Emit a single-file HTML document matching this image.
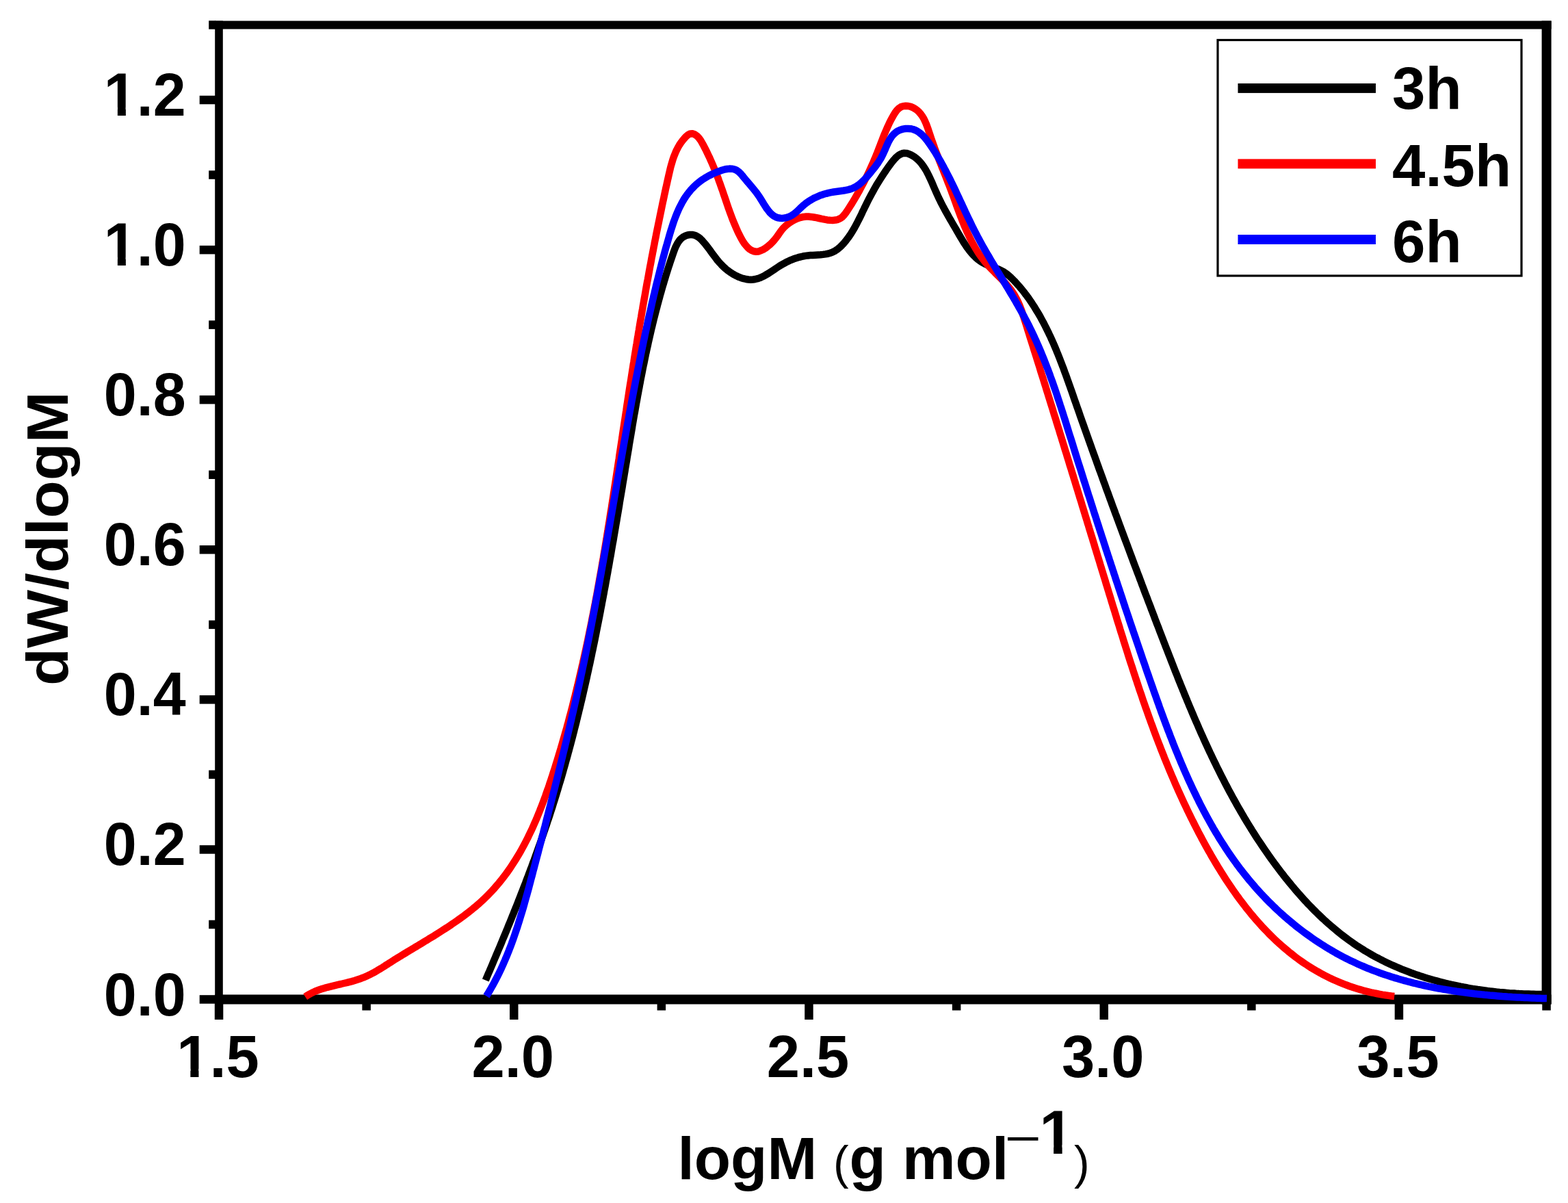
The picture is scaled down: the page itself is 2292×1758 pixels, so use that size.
<!DOCTYPE html>
<html><head><meta charset="utf-8"><title>dW/dlogM vs logM</title>
<style>
html,body{margin:0;padding:0;background:#fff;}
svg{display:block;}
text{font-family:'Liberation Sans', Arial, Helvetica, sans-serif;font-weight:bold;fill:#000;}
.r{font-weight:normal;}
</style></head><body>
<svg xmlns="http://www.w3.org/2000/svg" width="2292" height="1758" viewBox="0 0 2292 1758">
<rect x="0" y="0" width="2292" height="1758" fill="#fff"/>

<g fill="#000">
<rect x="314.2" y="30.5" width="1953.4" height="12"/>
<rect x="314.2" y="1453.5" width="1953.4" height="14"/>
<rect x="314.2" y="30.5" width="11.6" height="1437.0"/>
<rect x="2253.6" y="30.5" width="14" height="1437.0"/>
<rect x="291.7" y="1454.2" width="23.5" height="12.5"/>
<rect x="305.2" y="1344.7" width="10.0" height="12.5"/>
<rect x="291.7" y="1235.2" width="23.5" height="12.5"/>
<rect x="305.2" y="1125.6" width="10.0" height="12.5"/>
<rect x="291.7" y="1016.1" width="23.5" height="12.5"/>
<rect x="305.2" y="906.6" width="10.0" height="12.5"/>
<rect x="291.7" y="797.0" width="23.5" height="12.5"/>
<rect x="305.2" y="687.5" width="10.0" height="12.5"/>
<rect x="291.7" y="577.9" width="23.5" height="12.5"/>
<rect x="305.2" y="468.4" width="10.0" height="12.5"/>
<rect x="291.7" y="358.9" width="23.5" height="12.5"/>
<rect x="305.2" y="249.3" width="10.0" height="12.5"/>
<rect x="291.7" y="139.8" width="23.5" height="12.5"/>
<rect x="305.2" y="30.2" width="10.0" height="12.5"/>
<rect x="313.8" y="1466.5" width="12.5" height="23.5"/>
<rect x="529.4" y="1466.5" width="12.5" height="10.0"/>
<rect x="745.0" y="1466.5" width="12.5" height="23.5"/>
<rect x="960.6" y="1466.5" width="12.5" height="10.0"/>
<rect x="1176.2" y="1466.5" width="12.5" height="23.5"/>
<rect x="1391.9" y="1466.5" width="12.5" height="10.0"/>
<rect x="1607.5" y="1466.5" width="12.5" height="23.5"/>
<rect x="1823.1" y="1466.5" width="12.5" height="10.0"/>
<rect x="2038.7" y="1466.5" width="12.5" height="23.5"/>
<rect x="2254.3" y="1466.5" width="12.5" height="10.0"/>
</g>
<polyline fill="none" stroke="#000" stroke-width="10.5" stroke-linejoin="round" stroke-linecap="butt" points="709.8,1432.4 711.2,1429.0 712.6,1425.7 714.0,1422.4 715.5,1419.1 716.9,1415.8 718.3,1412.5 719.7,1409.2 721.1,1405.8 722.5,1402.5 723.9,1399.2 725.3,1395.9 726.7,1392.6 728.1,1389.3 729.5,1386.0 730.9,1382.7 732.3,1379.4 733.7,1376.0 735.0,1372.7 736.4,1369.4 737.8,1366.1 739.2,1362.8 740.5,1359.5 741.9,1356.2 743.2,1352.9 744.6,1349.6 745.9,1346.3 747.3,1342.9 748.6,1339.6 750.0,1336.3 751.3,1333.0 752.6,1329.7 754.0,1326.4 755.3,1323.1 756.6,1319.8 757.9,1316.4 759.2,1313.1 760.5,1309.8 761.8,1306.5 763.1,1303.2 764.4,1299.8 765.7,1296.5 767.0,1293.2 768.3,1289.9 769.5,1286.6 770.8,1283.2 772.1,1279.9 773.3,1276.6 774.6,1273.2 775.8,1269.9 777.1,1266.6 778.3,1263.2 779.5,1259.9 780.8,1256.6 782.0,1253.2 783.2,1249.9 784.4,1246.6 785.6,1243.2 786.8,1239.9 788.0,1236.5 789.2,1233.2 790.4,1229.8 791.6,1226.5 792.7,1223.1 793.9,1219.7 795.0,1216.4 796.2,1213.0 797.3,1209.7 798.5,1206.3 799.6,1202.9 800.7,1199.5 801.9,1196.2 803.0,1192.8 804.1,1189.4 805.2,1186.0 806.3,1182.6 807.4,1179.3 808.4,1175.9 809.5,1172.5 810.6,1169.1 811.6,1165.7 812.7,1162.3 813.7,1158.9 814.8,1155.5 815.8,1152.1 816.8,1148.6 817.8,1145.2 818.9,1141.8 819.9,1138.4 820.9,1135.0 821.9,1131.5 822.9,1128.1 823.8,1124.7 824.8,1121.2 825.8,1117.8 826.7,1114.4 827.7,1110.9 828.7,1107.5 829.6,1104.1 830.5,1100.6 831.5,1097.2 832.4,1093.7 833.3,1090.3 834.3,1086.8 835.2,1083.3 836.1,1079.9 837.0,1076.4 837.9,1073.0 838.8,1069.5 839.6,1066.0 840.5,1062.6 841.4,1059.1 842.3,1055.6 843.1,1052.1 844.0,1048.7 844.8,1045.2 845.7,1041.7 846.5,1038.2 847.4,1034.7 848.2,1031.3 849.0,1027.8 849.9,1024.3 850.7,1020.8 851.5,1017.3 852.3,1013.8 853.1,1010.3 853.9,1006.8 854.7,1003.3 855.5,999.8 856.3,996.3 857.1,992.8 857.9,989.3 858.6,985.8 859.4,982.3 860.2,978.8 860.9,975.3 861.7,971.8 862.5,968.3 863.2,964.8 864.0,961.2 864.7,957.7 865.4,954.2 866.2,950.7 866.9,947.2 867.6,943.7 868.4,940.1 869.1,936.6 869.8,933.1 870.5,929.6 871.2,926.1 871.9,922.5 872.6,919.0 873.3,915.5 874.0,912.0 874.7,908.4 875.4,904.9 876.1,901.4 876.8,897.8 877.5,894.3 878.1,890.8 878.8,887.3 879.5,883.7 880.1,880.2 880.8,876.7 881.5,873.1 882.1,869.6 882.8,866.1 883.4,862.5 884.1,859.0 884.8,855.5 885.4,851.9 886.0,848.4 886.7,844.8 887.3,841.3 888.0,837.8 888.6,834.2 889.2,830.7 889.9,827.2 890.5,823.6 891.1,820.1 891.7,816.6 892.4,813.0 893.0,809.5 893.6,805.9 894.2,802.4 894.8,798.9 895.4,795.3 896.1,791.8 896.7,788.3 897.3,784.7 897.9,781.2 898.5,777.6 899.1,774.1 899.7,770.6 900.3,767.0 900.9,763.5 901.5,760.0 902.1,756.4 902.7,752.9 903.3,749.4 903.9,745.8 904.5,742.3 905.1,738.8 905.6,735.2 906.2,731.7 906.8,728.2 907.4,724.7 908.0,721.1 908.6,717.6 909.2,714.1 909.8,710.6 910.3,707.0 910.9,703.5 911.5,700.0 912.1,696.5 912.7,692.9 913.3,689.4 913.8,685.9 914.4,682.4 915.0,678.9 915.6,675.3 916.2,671.8 916.7,668.3 917.3,664.8 917.9,661.3 918.5,657.8 919.1,654.3 919.6,650.7 920.2,647.2 920.8,643.7 921.4,640.2 922.0,636.7 922.6,633.2 923.2,629.7 923.8,626.2 924.3,622.7 924.9,619.2 925.5,615.7 926.1,612.2 926.7,608.7 927.3,605.2 928.0,601.7 928.6,598.2 929.2,594.7 929.8,591.2 930.4,587.7 931.1,584.2 931.7,580.7 932.3,577.2 933.0,573.7 933.6,570.3 934.3,566.8 934.9,563.3 935.6,559.8 936.2,556.3 936.9,552.8 937.6,549.3 938.3,545.8 939.0,542.3 939.6,538.9 940.3,535.4 941.1,531.9 941.8,528.4 942.5,524.9 943.2,521.4 943.9,517.9 944.7,514.5 945.4,511.0 946.2,507.5 947.0,504.0 947.7,500.5 948.5,497.0 949.3,493.5 950.1,490.1 950.9,486.6 951.7,483.1 952.5,479.6 953.4,476.1 954.2,472.6 955.1,469.2 955.9,465.7 956.8,462.2 957.7,458.7 958.6,455.2 959.5,451.7 960.4,448.3 961.3,444.8 962.3,441.3 963.2,437.8 964.2,434.3 965.1,430.8 966.1,427.4 967.1,423.9 968.1,420.4 969.1,416.9 970.2,413.4 971.2,409.9 972.3,406.4 973.3,402.9 974.4,399.5 975.5,396.0 976.6,392.5 977.7,389.0 978.9,385.5 980.0,382.0 981.2,378.5 982.4,375.0 983.6,371.5 984.8,368.1 986.0,364.7 987.4,361.3 988.9,358.2 990.5,355.2 992.4,352.4 994.4,349.9 996.7,347.7 999.3,345.9 1002.2,344.5 1005.2,343.5 1008.5,343.0 1011.8,343.0 1015.1,343.6 1018.2,344.9 1021.2,346.7 1024.0,349.1 1026.7,351.8 1029.1,354.6 1031.5,357.4 1033.7,360.2 1035.9,363.1 1038.0,365.9 1040.0,368.8 1042.1,371.6 1044.2,374.4 1046.3,377.2 1048.4,380.0 1050.7,382.7 1053.1,385.3 1055.5,387.9 1058.2,390.5 1061.0,393.0 1063.9,395.3 1067.0,397.6 1070.2,399.7 1073.5,401.6 1076.8,403.3 1080.2,404.9 1083.6,406.2 1087.1,407.2 1090.6,408.0 1094.0,408.5 1097.4,408.7 1100.8,408.5 1104.1,408.0 1107.4,407.2 1110.6,406.1 1113.7,404.7 1116.9,403.2 1120.0,401.4 1123.1,399.6 1126.1,397.6 1129.2,395.6 1132.2,393.6 1135.3,391.5 1138.3,389.5 1141.4,387.6 1144.5,385.8 1147.6,384.1 1150.7,382.4 1153.9,380.9 1157.1,379.6 1160.3,378.3 1163.6,377.2 1166.9,376.2 1170.3,375.3 1173.8,374.5 1177.3,373.9 1180.9,373.4 1184.5,373.1 1188.2,372.9 1191.9,372.7 1195.7,372.5 1199.4,372.3 1203.0,371.9 1206.6,371.4 1210.2,370.8 1213.5,369.8 1216.8,368.6 1219.9,367.1 1222.8,365.2 1225.6,363.1 1228.3,360.8 1230.8,358.3 1233.3,355.6 1235.6,352.9 1237.8,350.1 1240.0,347.2 1242.0,344.3 1244.0,341.3 1245.9,338.2 1247.8,335.1 1249.6,331.9 1251.3,328.7 1253.0,325.5 1254.6,322.3 1256.3,319.0 1257.9,315.8 1259.5,312.5 1261.0,309.2 1262.6,306.0 1264.1,302.8 1265.7,299.6 1267.3,296.4 1268.8,293.3 1270.4,290.2 1272.1,287.1 1273.7,284.0 1275.4,280.9 1277.1,277.9 1278.8,274.8 1280.5,271.8 1282.3,268.8 1284.2,265.7 1286.1,262.7 1288.0,259.7 1290.0,256.6 1292.0,253.6 1294.1,250.5 1296.2,247.4 1298.4,244.3 1300.7,241.2 1303.0,238.0 1305.4,235.0 1307.9,232.1 1310.4,229.5 1313.1,227.3 1315.9,225.6 1318.8,224.3 1321.8,223.8 1324.9,223.9 1328.1,224.8 1331.3,226.1 1334.4,227.8 1337.3,229.7 1340.0,231.9 1342.5,234.2 1344.9,236.7 1347.2,239.4 1349.3,242.3 1351.3,245.2 1353.2,248.3 1355.0,251.5 1356.7,254.8 1358.3,258.1 1359.9,261.5 1361.5,264.9 1363.0,268.4 1364.4,271.8 1365.9,275.3 1367.4,278.7 1368.9,282.0 1370.4,285.3 1371.9,288.6 1373.5,291.8 1375.0,295.0 1376.6,298.1 1378.2,301.2 1379.9,304.3 1381.5,307.4 1383.2,310.4 1384.9,313.4 1386.6,316.5 1388.3,319.5 1390.1,322.5 1391.8,325.5 1393.6,328.6 1395.4,331.6 1397.2,334.7 1399.0,337.8 1400.8,340.9 1402.6,344.1 1404.5,347.2 1406.4,350.4 1408.3,353.6 1410.3,356.7 1412.3,359.7 1414.4,362.7 1416.6,365.6 1418.9,368.4 1421.2,371.2 1423.7,373.8 1426.2,376.2 1428.8,378.5 1431.6,380.7 1434.5,382.7 1437.5,384.4 1440.6,386.0 1443.9,387.5 1447.2,388.8 1450.6,390.1 1453.9,391.4 1457.3,392.7 1460.6,394.0 1463.8,395.5 1466.9,397.2 1469.9,399.1 1472.7,401.2 1475.4,403.5 1478.0,405.9 1480.5,408.4 1483.0,410.9 1485.4,413.5 1487.8,416.2 1490.2,418.8 1492.5,421.6 1494.7,424.3 1496.9,427.1 1499.1,430.0 1501.3,432.8 1503.4,435.7 1505.4,438.7 1507.4,441.6 1509.4,444.6 1511.4,447.6 1513.3,450.7 1515.1,453.7 1517.0,456.8 1518.8,459.8 1520.6,462.9 1522.3,466.1 1524.0,469.2 1525.7,472.3 1527.3,475.5 1528.9,478.7 1530.5,481.9 1532.1,485.1 1533.6,488.3 1535.2,491.5 1536.6,494.8 1538.1,498.0 1539.6,501.3 1541.0,504.6 1542.4,507.9 1543.8,511.2 1545.1,514.5 1546.5,517.8 1547.8,521.1 1549.1,524.4 1550.4,527.8 1551.7,531.1 1553.0,534.5 1554.3,537.8 1555.5,541.2 1556.7,544.6 1558.0,547.9 1559.2,551.3 1560.4,554.7 1561.6,558.1 1562.8,561.5 1564.0,564.8 1565.2,568.2 1566.4,571.6 1567.6,575.0 1568.8,578.4 1569.9,581.8 1571.1,585.2 1572.3,588.6 1573.5,592.0 1574.7,595.4 1575.9,598.8 1577.1,602.1 1578.2,605.5 1579.4,608.9 1580.6,612.3 1581.8,615.7 1583.0,619.1 1584.2,622.4 1585.4,625.8 1586.6,629.2 1587.8,632.6 1589.0,636.0 1590.2,639.3 1591.4,642.7 1592.6,646.1 1593.8,649.4 1595.0,652.8 1596.2,656.2 1597.4,659.6 1598.6,662.9 1599.9,666.3 1601.1,669.7 1602.3,673.0 1603.5,676.4 1604.7,679.8 1605.9,683.1 1607.1,686.5 1608.4,689.9 1609.6,693.2 1610.8,696.6 1612.0,699.9 1613.2,703.3 1614.5,706.7 1615.7,710.0 1616.9,713.4 1618.1,716.7 1619.4,720.1 1620.6,723.5 1621.8,726.8 1623.0,730.2 1624.3,733.5 1625.5,736.9 1626.7,740.2 1628.0,743.6 1629.2,746.9 1630.4,750.3 1631.7,753.6 1632.9,757.0 1634.2,760.3 1635.4,763.7 1636.6,767.0 1637.9,770.4 1639.1,773.7 1640.4,777.1 1641.6,780.4 1642.9,783.8 1644.1,787.1 1645.4,790.5 1646.6,793.8 1647.9,797.2 1649.1,800.5 1650.4,803.9 1651.6,807.2 1652.9,810.6 1654.1,813.9 1655.4,817.3 1656.6,820.6 1657.9,824.0 1659.1,827.3 1660.4,830.7 1661.7,834.0 1662.9,837.4 1664.2,840.7 1665.5,844.0 1666.7,847.4 1668.0,850.7 1669.2,854.1 1670.5,857.4 1671.8,860.8 1673.0,864.1 1674.3,867.5 1675.6,870.8 1676.9,874.2 1678.1,877.5 1679.4,880.9 1680.7,884.2 1682.0,887.5 1683.2,890.9 1684.5,894.2 1685.8,897.6 1687.1,900.9 1688.3,904.3 1689.6,907.6 1690.9,911.0 1692.2,914.3 1693.5,917.7 1694.7,921.0 1696.0,924.4 1697.3,927.7 1698.6,931.1 1699.9,934.4 1701.2,937.8 1702.5,941.1 1703.8,944.5 1705.1,947.8 1706.4,951.2 1707.7,954.5 1709.0,957.9 1710.3,961.2 1711.6,964.5 1712.9,967.9 1714.2,971.2 1715.5,974.6 1716.8,977.9 1718.1,981.3 1719.5,984.6 1720.8,987.9 1722.1,991.3 1723.4,994.6 1724.8,997.9 1726.1,1001.3 1727.5,1004.6 1728.8,1007.9 1730.2,1011.2 1731.5,1014.6 1732.9,1017.9 1734.3,1021.2 1735.6,1024.5 1737.0,1027.8 1738.4,1031.2 1739.8,1034.5 1741.2,1037.8 1742.6,1041.1 1744.0,1044.4 1745.4,1047.7 1746.8,1051.0 1748.2,1054.3 1749.7,1057.5 1751.1,1060.8 1752.5,1064.1 1754.0,1067.4 1755.4,1070.7 1756.9,1073.9 1758.4,1077.2 1759.8,1080.5 1761.3,1083.7 1762.8,1087.0 1764.3,1090.2 1765.8,1093.5 1767.3,1096.7 1768.8,1100.0 1770.4,1103.2 1771.9,1106.4 1773.5,1109.7 1775.0,1112.9 1776.6,1116.1 1778.1,1119.3 1779.7,1122.5 1781.3,1125.7 1782.9,1128.9 1784.5,1132.1 1786.1,1135.3 1787.8,1138.5 1789.4,1141.7 1791.0,1144.8 1792.7,1148.0 1794.4,1151.2 1796.0,1154.3 1797.7,1157.5 1799.4,1160.6 1801.1,1163.7 1802.8,1166.9 1804.6,1170.0 1806.3,1173.1 1808.0,1176.2 1809.8,1179.3 1811.6,1182.4 1813.4,1185.5 1815.2,1188.6 1817.0,1191.7 1818.8,1194.8 1820.6,1197.8 1822.5,1200.9 1824.3,1203.9 1826.2,1207.0 1828.1,1210.0 1829.9,1213.0 1831.9,1216.1 1833.8,1219.1 1835.7,1222.1 1837.6,1225.1 1839.6,1228.1 1841.6,1231.0 1843.6,1234.0 1845.6,1237.0 1847.6,1239.9 1849.6,1242.9 1851.6,1245.8 1853.7,1248.8 1855.7,1251.7 1857.8,1254.6 1859.9,1257.5 1862.0,1260.4 1864.2,1263.3 1866.3,1266.2 1868.5,1269.1 1870.6,1271.9 1872.8,1274.8 1875.0,1277.6 1877.2,1280.5 1879.5,1283.3 1881.7,1286.1 1884.0,1288.9 1886.3,1291.7 1888.6,1294.5 1890.9,1297.2 1893.2,1300.0 1895.6,1302.7 1897.9,1305.4 1900.3,1308.1 1902.7,1310.8 1905.1,1313.5 1907.5,1316.1 1910.0,1318.7 1912.4,1321.4 1914.9,1323.9 1917.4,1326.5 1919.9,1329.1 1922.5,1331.6 1925.0,1334.1 1927.6,1336.6 1930.2,1339.1 1932.8,1341.6 1935.4,1344.0 1938.0,1346.4 1940.7,1348.8 1943.4,1351.2 1946.1,1353.5 1948.8,1355.8 1951.5,1358.1 1954.3,1360.4 1957.0,1362.6 1959.8,1364.8 1962.6,1367.0 1965.5,1369.2 1968.3,1371.3 1971.2,1373.4 1974.1,1375.5 1977.0,1377.6 1979.9,1379.6 1982.8,1381.6 1985.8,1383.5 1988.8,1385.4 1991.8,1387.3 1994.8,1389.2 1997.9,1391.0 2000.9,1392.8 2004.0,1394.6 2007.1,1396.4 2010.2,1398.1 2013.4,1399.7 2016.5,1401.4 2019.7,1403.0 2022.9,1404.6 2026.1,1406.2 2029.3,1407.7 2032.5,1409.2 2035.8,1410.7 2039.1,1412.1 2042.3,1413.5 2045.6,1414.9 2048.9,1416.3 2052.3,1417.6 2055.6,1418.9 2058.9,1420.2 2062.3,1421.5 2065.7,1422.7 2069.0,1423.9 2072.4,1425.0 2075.8,1426.2 2079.3,1427.3 2082.7,1428.4 2086.1,1429.5 2089.6,1430.5 2093.0,1431.5 2096.5,1432.5 2099.9,1433.4 2103.4,1434.4 2106.9,1435.3 2110.4,1436.2 2113.9,1437.0 2117.4,1437.9 2120.9,1438.7 2124.4,1439.4 2128.0,1440.2 2131.5,1440.9 2135.0,1441.7 2138.6,1442.3 2142.1,1443.0 2145.7,1443.7 2149.2,1444.3 2152.8,1444.9 2156.3,1445.4 2159.9,1446.0 2163.5,1446.5 2167.0,1447.0 2170.6,1447.5 2174.2,1448.0 2177.7,1448.4 2181.3,1448.8 2184.9,1449.2 2188.4,1449.6 2192.0,1450.0 2195.6,1450.3 2199.1,1450.6 2202.7,1450.9 2206.3,1451.2 2209.8,1451.4 2213.4,1451.6 2216.9,1451.9 2220.5,1452.1 2224.0,1452.2 2227.6,1452.4 2231.1,1452.5 2234.6,1452.6 2238.2,1452.7 2241.7,1452.8 2245.2,1452.9 2248.7,1452.9 2252.2,1452.9 2255.7,1452.9"/>
<polyline fill="none" stroke="#f00" stroke-width="10.5" stroke-linejoin="round" stroke-linecap="butt" points="446.2,1456.6 449.4,1454.5 452.7,1452.6 456.1,1450.8 459.6,1449.2 463.2,1447.7 467.0,1446.3 470.7,1445.1 474.6,1443.9 478.5,1442.8 482.4,1441.8 486.4,1440.8 490.4,1439.8 494.4,1438.9 498.5,1438.0 502.5,1437.0 506.5,1436.1 510.4,1435.1 514.4,1434.1 518.2,1433.0 522.0,1431.8 525.8,1430.6 529.4,1429.2 533.0,1427.8 536.5,1426.2 540.0,1424.6 543.3,1422.9 546.7,1421.1 550.0,1419.2 553.2,1417.3 556.5,1415.4 559.7,1413.4 562.9,1411.3 566.1,1409.3 569.3,1407.2 572.6,1405.2 575.8,1403.1 579.1,1401.1 582.4,1399.0 585.8,1397.0 589.1,1394.9 592.5,1392.9 595.9,1390.8 599.3,1388.8 602.7,1386.7 606.1,1384.6 609.6,1382.6 613.0,1380.5 616.5,1378.4 619.9,1376.3 623.4,1374.3 626.8,1372.1 630.3,1370.0 633.8,1367.9 637.2,1365.8 640.6,1363.6 644.1,1361.4 647.5,1359.2 650.9,1357.0 654.3,1354.8 657.7,1352.6 661.0,1350.3 664.4,1348.0 667.7,1345.7 671.0,1343.4 674.3,1341.0 677.5,1338.7 680.7,1336.3 683.9,1333.8 687.0,1331.4 690.2,1328.9 693.2,1326.3 696.3,1323.8 699.3,1321.2 702.2,1318.6 705.2,1315.9 708.0,1313.2 710.8,1310.5 713.6,1307.7 716.3,1304.9 719.0,1302.1 721.7,1299.2 724.2,1296.3 726.8,1293.3 729.3,1290.4 731.7,1287.4 734.2,1284.3 736.5,1281.3 738.9,1278.1 741.2,1275.0 743.4,1271.9 745.6,1268.7 747.8,1265.4 749.9,1262.2 752.0,1258.9 754.1,1255.6 756.1,1252.3 758.1,1249.0 760.1,1245.6 762.0,1242.2 763.9,1238.8 765.8,1235.3 767.6,1231.9 769.4,1228.4 771.2,1224.9 772.9,1221.3 774.6,1217.8 776.3,1214.2 778.0,1210.7 779.6,1207.1 781.2,1203.4 782.8,1199.8 784.4,1196.2 785.9,1192.5 787.4,1188.8 788.9,1185.1 790.3,1181.4 791.8,1177.7 793.2,1174.0 794.6,1170.3 796.0,1166.5 797.4,1162.8 798.7,1159.0 800.0,1155.2 801.4,1151.5 802.7,1147.7 803.9,1143.9 805.2,1140.1 806.5,1136.3 807.7,1132.5 808.9,1128.7 810.2,1124.8 811.4,1121.0 812.6,1117.2 813.8,1113.4 814.9,1109.6 816.1,1105.7 817.3,1101.9 818.4,1098.1 819.6,1094.3 820.7,1090.4 821.8,1086.6 822.9,1082.8 824.0,1078.9 825.1,1075.1 826.2,1071.2 827.3,1067.4 828.4,1063.6 829.4,1059.7 830.5,1055.9 831.5,1052.0 832.5,1048.2 833.6,1044.3 834.6,1040.5 835.6,1036.6 836.6,1032.8 837.6,1028.9 838.5,1025.0 839.5,1021.2 840.5,1017.3 841.4,1013.5 842.4,1009.6 843.3,1005.7 844.3,1001.9 845.2,998.0 846.1,994.1 847.0,990.3 847.9,986.4 848.8,982.5 849.7,978.6 850.6,974.8 851.5,970.9 852.4,967.0 853.2,963.1 854.1,959.3 854.9,955.4 855.8,951.5 856.6,947.6 857.5,943.7 858.3,939.8 859.1,936.0 859.9,932.1 860.7,928.2 861.5,924.3 862.3,920.4 863.1,916.5 863.9,912.6 864.7,908.7 865.4,904.8 866.2,900.9 867.0,897.1 867.7,893.2 868.5,889.3 869.2,885.4 870.0,881.5 870.7,877.6 871.4,873.7 872.2,869.8 872.9,865.9 873.6,862.0 874.3,858.1 875.0,854.2 875.7,850.2 876.4,846.3 877.1,842.4 877.8,838.5 878.5,834.6 879.2,830.7 879.9,826.8 880.5,822.9 881.2,819.0 881.9,815.1 882.5,811.2 883.2,807.3 883.9,803.3 884.5,799.4 885.2,795.5 885.8,791.6 886.5,787.7 887.1,783.8 887.7,779.9 888.4,776.0 889.0,772.0 889.6,768.1 890.3,764.2 890.9,760.3 891.5,756.4 892.1,752.5 892.7,748.6 893.4,744.6 894.0,740.7 894.6,736.8 895.2,732.9 895.8,729.0 896.4,725.1 897.0,721.1 897.6,717.2 898.2,713.3 898.8,709.4 899.4,705.5 900.0,701.5 900.6,697.6 901.2,693.7 901.8,689.8 902.4,685.9 903.0,682.0 903.6,678.0 904.2,674.1 904.8,670.2 905.3,666.3 905.9,662.4 906.5,658.5 907.1,654.5 907.7,650.6 908.3,646.7 908.9,642.8 909.5,638.9 910.0,635.0 910.6,631.0 911.2,627.1 911.8,623.2 912.4,619.3 913.0,615.4 913.6,611.5 914.2,607.6 914.8,603.6 915.4,599.7 915.9,595.8 916.5,591.9 917.1,588.0 917.7,584.1 918.3,580.2 918.9,576.3 919.5,572.3 920.1,568.4 920.7,564.5 921.3,560.6 922.0,556.7 922.6,552.8 923.2,548.9 923.8,545.0 924.4,541.1 925.0,537.2 925.6,533.3 926.3,529.4 926.9,525.5 927.5,521.6 928.1,517.7 928.8,513.8 929.4,509.9 930.0,506.0 930.7,502.1 931.3,498.2 931.9,494.3 932.6,490.4 933.2,486.5 933.9,482.6 934.5,478.7 935.2,474.8 935.8,470.9 936.5,467.0 937.2,463.1 937.8,459.2 938.5,455.3 939.2,451.4 939.8,447.5 940.5,443.6 941.2,439.7 941.9,435.8 942.6,431.9 943.3,428.0 943.9,424.1 944.6,420.2 945.3,416.3 946.0,412.4 946.8,408.5 947.5,404.6 948.2,400.7 948.9,396.8 949.6,392.9 950.3,389.0 951.1,385.1 951.8,381.2 952.5,377.3 953.3,373.4 954.0,369.5 954.8,365.6 955.5,361.7 956.3,357.8 957.0,353.9 957.8,350.0 958.6,346.1 959.3,342.2 960.1,338.3 960.9,334.4 961.7,330.5 962.5,326.6 963.3,322.7 964.1,318.8 964.9,314.9 965.7,311.0 966.5,307.1 967.3,303.2 968.1,299.3 968.9,295.4 969.8,291.5 970.6,287.6 971.4,283.7 972.3,279.8 973.1,275.8 974.0,271.9 974.9,268.0 975.7,264.1 976.6,260.2 977.5,256.3 978.4,252.4 979.3,248.5 980.2,244.6 981.3,240.8 982.4,237.0 983.5,233.2 984.8,229.5 986.2,225.9 987.7,222.3 989.3,218.8 991.1,215.3 993.0,212.0 995.1,208.8 997.5,205.6 1000.0,202.6 1002.7,199.7 1005.6,197.1 1008.8,195.4 1012.2,195.2 1015.6,196.4 1018.8,198.7 1021.6,201.6 1024.0,204.9 1026.1,208.4 1028.1,212.1 1030.0,215.7 1031.9,219.4 1033.7,223.1 1035.4,226.7 1037.2,230.4 1038.8,234.1 1040.5,237.9 1042.1,241.6 1043.6,245.3 1045.1,249.0 1046.6,252.7 1048.1,256.4 1049.5,260.1 1050.8,263.8 1052.2,267.5 1053.5,271.2 1054.8,274.9 1056.1,278.5 1057.3,282.2 1058.5,285.8 1059.8,289.4 1061.0,293.0 1062.2,296.6 1063.4,300.2 1064.7,303.9 1066.0,307.5 1067.3,311.2 1068.7,314.8 1070.1,318.6 1071.5,322.3 1073.1,326.1 1074.7,329.9 1076.4,333.8 1078.1,337.7 1080.0,341.7 1082.0,345.6 1084.0,349.4 1086.2,353.1 1088.5,356.5 1091.0,359.5 1093.5,362.2 1096.2,364.5 1099.1,366.1 1102.1,367.2 1105.2,367.7 1108.6,367.4 1112.0,366.3 1115.5,364.7 1119.1,362.5 1122.6,359.8 1126.0,356.9 1129.2,353.8 1132.1,350.5 1134.7,347.3 1137.0,344.1 1139.1,341.1 1141.1,338.2 1143.3,335.3 1145.8,332.5 1148.7,329.8 1151.8,327.2 1155.3,324.7 1158.9,322.5 1162.7,320.6 1166.6,319.0 1170.5,317.8 1174.4,316.9 1178.2,316.6 1182.0,316.6 1185.8,316.9 1189.6,317.5 1193.4,318.2 1197.2,319.0 1201.2,319.9 1205.2,320.7 1209.2,321.4 1213.3,321.8 1217.3,321.9 1221.2,321.6 1224.8,320.8 1228.1,319.3 1231.1,317.2 1233.7,314.4 1236.2,311.3 1238.5,307.9 1240.7,304.5 1242.9,301.0 1245.1,297.6 1247.2,294.1 1249.3,290.6 1251.3,287.1 1253.3,283.6 1255.3,280.2 1257.2,276.6 1259.1,273.1 1261.0,269.6 1262.8,266.1 1264.6,262.5 1266.4,259.0 1268.1,255.5 1269.8,251.9 1271.5,248.3 1273.1,244.8 1274.7,241.2 1276.3,237.6 1277.8,234.0 1279.4,230.4 1280.8,226.8 1282.3,223.2 1283.7,219.6 1285.1,216.0 1286.5,212.4 1287.9,208.7 1289.3,205.1 1290.7,201.5 1292.1,197.8 1293.6,194.2 1295.2,190.5 1296.8,186.8 1298.5,183.1 1300.2,179.4 1302.1,175.7 1304.1,172.0 1306.2,168.2 1308.5,164.5 1311.0,161.2 1313.8,158.3 1316.8,156.3 1320.3,155.1 1323.9,154.7 1327.6,155.0 1331.3,155.9 1334.8,157.4 1338.2,159.3 1341.2,161.6 1343.9,164.3 1346.3,167.2 1348.5,170.3 1350.5,173.7 1352.2,177.3 1353.8,181.0 1355.3,184.9 1356.7,188.8 1358.0,192.8 1359.3,196.7 1360.6,200.7 1361.9,204.6 1363.3,208.4 1364.7,212.2 1366.0,216.0 1367.4,219.8 1368.8,223.5 1370.3,227.2 1371.7,230.9 1373.1,234.6 1374.5,238.2 1376.0,241.9 1377.4,245.5 1378.9,249.1 1380.3,252.8 1381.8,256.4 1383.2,260.0 1384.6,263.6 1386.0,267.3 1387.5,270.9 1388.9,274.6 1390.3,278.3 1391.6,282.0 1393.0,285.7 1394.4,289.4 1395.7,293.1 1397.1,296.9 1398.4,300.7 1399.8,304.4 1401.2,308.2 1402.6,311.9 1404.0,315.7 1405.5,319.4 1406.9,323.1 1408.4,326.9 1409.9,330.6 1411.5,334.2 1413.1,337.9 1414.8,341.5 1416.5,345.1 1418.2,348.7 1420.0,352.2 1421.9,355.7 1423.8,359.2 1425.8,362.6 1427.8,365.9 1429.9,369.3 1432.1,372.5 1434.4,375.7 1436.8,378.9 1439.2,382.0 1441.8,385.0 1444.4,388.0 1447.1,390.9 1449.9,393.8 1452.7,396.6 1455.5,399.5 1458.3,402.3 1461.1,405.1 1463.9,407.9 1466.7,410.8 1469.4,413.7 1472.0,416.6 1474.5,419.6 1477.0,422.6 1479.3,425.8 1481.5,429.0 1483.5,432.3 1485.4,435.7 1487.2,439.1 1488.8,442.7 1490.4,446.3 1491.8,450.0 1493.2,453.7 1494.5,457.5 1495.7,461.3 1497.0,465.1 1498.2,468.9 1499.4,472.7 1500.6,476.5 1501.8,480.3 1503.0,484.2 1504.2,488.0 1505.4,491.8 1506.6,495.6 1507.8,499.4 1509.0,503.2 1510.2,507.0 1511.4,510.8 1512.6,514.6 1513.8,518.4 1515.0,522.3 1516.2,526.1 1517.4,529.9 1518.6,533.7 1519.8,537.5 1520.9,541.3 1522.1,545.1 1523.3,548.9 1524.5,552.7 1525.7,556.5 1526.9,560.3 1528.1,564.1 1529.2,567.9 1530.4,571.7 1531.6,575.5 1532.8,579.3 1534.0,583.1 1535.1,586.8 1536.3,590.6 1537.5,594.4 1538.7,598.2 1539.8,602.0 1541.0,605.8 1542.2,609.6 1543.4,613.4 1544.5,617.2 1545.7,621.0 1546.9,624.8 1548.1,628.5 1549.2,632.3 1550.4,636.1 1551.6,639.9 1552.7,643.7 1553.9,647.5 1555.1,651.3 1556.2,655.1 1557.4,658.8 1558.6,662.6 1559.7,666.4 1560.9,670.2 1562.1,674.0 1563.2,677.8 1564.4,681.6 1565.6,685.3 1566.7,689.1 1567.9,692.9 1569.1,696.7 1570.2,700.5 1571.4,704.2 1572.5,708.0 1573.7,711.8 1574.9,715.6 1576.0,719.4 1577.2,723.2 1578.3,726.9 1579.5,730.7 1580.7,734.5 1581.8,738.3 1583.0,742.1 1584.1,745.8 1585.3,749.6 1586.4,753.4 1587.6,757.2 1588.8,761.0 1589.9,764.8 1591.1,768.5 1592.2,772.3 1593.4,776.1 1594.5,779.9 1595.7,783.7 1596.9,787.4 1598.0,791.2 1599.2,795.0 1600.3,798.8 1601.5,802.6 1602.6,806.4 1603.8,810.1 1604.9,813.9 1606.1,817.7 1607.3,821.5 1608.4,825.3 1609.6,829.1 1610.7,832.8 1611.9,836.6 1613.0,840.4 1614.2,844.2 1615.4,848.0 1616.5,851.8 1617.7,855.6 1618.8,859.3 1620.0,863.1 1621.1,866.9 1622.3,870.7 1623.5,874.5 1624.6,878.3 1625.8,882.1 1626.9,885.9 1628.1,889.7 1629.3,893.4 1630.4,897.2 1631.6,901.0 1632.7,904.8 1633.9,908.6 1635.1,912.4 1636.3,916.2 1637.4,920.0 1638.6,923.8 1639.8,927.5 1641.0,931.3 1642.1,935.1 1643.3,938.9 1644.5,942.7 1645.7,946.5 1646.9,950.2 1648.1,954.0 1649.3,957.8 1650.5,961.6 1651.7,965.4 1652.9,969.1 1654.2,972.9 1655.4,976.7 1656.6,980.5 1657.8,984.2 1659.1,988.0 1660.3,991.8 1661.6,995.5 1662.8,999.3 1664.1,1003.1 1665.3,1006.8 1666.6,1010.6 1667.9,1014.3 1669.2,1018.1 1670.4,1021.8 1671.7,1025.6 1673.0,1029.3 1674.3,1033.1 1675.7,1036.8 1677.0,1040.6 1678.3,1044.3 1679.6,1048.0 1681.0,1051.8 1682.3,1055.5 1683.7,1059.2 1685.1,1062.9 1686.4,1066.7 1687.8,1070.4 1689.2,1074.1 1690.6,1077.8 1692.0,1081.5 1693.4,1085.2 1694.9,1088.9 1696.3,1092.6 1697.7,1096.3 1699.2,1100.0 1700.7,1103.7 1702.1,1107.4 1703.6,1111.0 1705.1,1114.7 1706.6,1118.4 1708.1,1122.0 1709.6,1125.7 1711.2,1129.4 1712.7,1133.0 1714.3,1136.7 1715.9,1140.3 1717.4,1143.9 1719.0,1147.6 1720.6,1151.2 1722.2,1154.8 1723.9,1158.5 1725.5,1162.1 1727.2,1165.7 1728.8,1169.3 1730.5,1172.9 1732.2,1176.5 1733.9,1180.1 1735.6,1183.7 1737.3,1187.2 1739.1,1190.8 1740.8,1194.4 1742.6,1198.0 1744.4,1201.5 1746.2,1205.1 1748.0,1208.6 1749.8,1212.2 1751.6,1215.7 1753.5,1219.2 1755.4,1222.7 1757.2,1226.3 1759.1,1229.8 1761.0,1233.3 1763.0,1236.8 1764.9,1240.3 1766.9,1243.8 1768.9,1247.2 1770.8,1250.7 1772.9,1254.2 1774.9,1257.6 1776.9,1261.0 1779.0,1264.5 1781.1,1267.9 1783.2,1271.3 1785.3,1274.7 1787.4,1278.1 1789.5,1281.4 1791.7,1284.8 1793.9,1288.1 1796.1,1291.4 1798.3,1294.7 1800.6,1298.0 1802.8,1301.3 1805.1,1304.5 1807.4,1307.8 1809.8,1311.0 1812.1,1314.2 1814.5,1317.4 1816.9,1320.5 1819.3,1323.6 1821.7,1326.8 1824.2,1329.8 1826.6,1332.9 1829.1,1336.0 1831.7,1339.0 1834.2,1342.0 1836.8,1344.9 1839.4,1347.9 1842.0,1350.8 1844.6,1353.7 1847.3,1356.6 1850.0,1359.4 1852.7,1362.2 1855.4,1365.0 1858.2,1367.8 1861.0,1370.5 1863.8,1373.2 1866.6,1375.8 1869.5,1378.5 1872.4,1381.0 1875.3,1383.6 1878.3,1386.1 1881.2,1388.6 1884.2,1391.1 1887.3,1393.5 1890.3,1395.9 1893.4,1398.3 1896.5,1400.6 1899.7,1402.9 1902.8,1405.1 1906.0,1407.3 1909.3,1409.5 1912.5,1411.6 1915.8,1413.7 1919.1,1415.7 1922.5,1417.7 1925.9,1419.7 1929.3,1421.6 1932.7,1423.5 1936.2,1425.3 1939.7,1427.1 1943.2,1428.9 1946.8,1430.6 1950.4,1432.2 1954.0,1433.8 1957.7,1435.4 1961.4,1436.9 1965.1,1438.4 1968.9,1439.8 1972.7,1441.2 1976.5,1442.5 1980.4,1443.8 1984.3,1445.0 1988.2,1446.1 1992.2,1447.3 1996.2,1448.3 2000.2,1449.3 2004.3,1450.3 2008.4,1451.2 2012.5,1452.0 2016.7,1452.8 2020.9,1453.6 2025.2,1454.3 2029.5,1454.9 2033.8,1455.5 2038.2,1456.0"/>
<polyline fill="none" stroke="#00f" stroke-width="10.5" stroke-linejoin="round" stroke-linecap="butt" points="711.0,1455.6 713.0,1452.4 714.9,1449.2 716.8,1446.0 718.6,1442.8 720.4,1439.6 722.2,1436.3 723.9,1433.0 725.6,1429.8 727.3,1426.5 729.0,1423.2 730.6,1419.8 732.2,1416.5 733.7,1413.2 735.2,1409.8 736.7,1406.4 738.2,1403.0 739.6,1399.6 741.1,1396.2 742.4,1392.8 743.8,1389.4 745.1,1385.9 746.5,1382.5 747.8,1379.0 749.0,1375.5 750.3,1372.1 751.5,1368.6 752.7,1365.1 753.9,1361.5 755.1,1358.0 756.3,1354.5 757.4,1351.0 758.5,1347.4 759.6,1343.9 760.7,1340.3 761.8,1336.8 762.9,1333.2 763.9,1329.7 765.0,1326.1 766.0,1322.5 767.0,1318.9 768.0,1315.3 769.0,1311.7 770.0,1308.2 771.0,1304.6 772.0,1301.0 773.0,1297.4 773.9,1293.8 774.9,1290.2 775.8,1286.5 776.8,1282.9 777.8,1279.3 778.7,1275.7 779.6,1272.1 780.6,1268.5 781.5,1264.9 782.5,1261.3 783.4,1257.7 784.4,1254.1 785.3,1250.5 786.3,1246.9 787.2,1243.3 788.1,1239.7 789.1,1236.1 790.0,1232.5 791.0,1228.9 791.9,1225.3 792.8,1221.7 793.8,1218.1 794.7,1214.5 795.6,1210.9 796.6,1207.3 797.5,1203.7 798.4,1200.1 799.3,1196.5 800.3,1192.9 801.2,1189.3 802.1,1185.7 803.0,1182.1 804.0,1178.5 804.9,1174.9 805.8,1171.3 806.7,1167.7 807.6,1164.1 808.5,1160.5 809.4,1156.9 810.4,1153.3 811.3,1149.7 812.2,1146.1 813.1,1142.5 814.0,1138.9 814.9,1135.3 815.8,1131.7 816.7,1128.1 817.5,1124.5 818.4,1120.9 819.3,1117.3 820.2,1113.7 821.1,1110.1 822.0,1106.5 822.8,1102.9 823.7,1099.3 824.6,1095.7 825.5,1092.1 826.3,1088.5 827.2,1084.9 828.1,1081.3 828.9,1077.7 829.8,1074.1 830.6,1070.5 831.5,1066.9 832.3,1063.3 833.2,1059.7 834.0,1056.0 834.9,1052.4 835.7,1048.8 836.5,1045.2 837.4,1041.6 838.2,1038.0 839.0,1034.4 839.8,1030.8 840.7,1027.1 841.5,1023.5 842.3,1019.9 843.1,1016.3 843.9,1012.7 844.7,1009.0 845.5,1005.4 846.3,1001.8 847.1,998.2 847.9,994.5 848.7,990.9 849.4,987.3 850.2,983.6 851.0,980.0 851.7,976.4 852.5,972.7 853.3,969.1 854.0,965.5 854.8,961.8 855.5,958.2 856.3,954.5 857.0,950.9 857.8,947.2 858.5,943.6 859.2,940.0 860.0,936.3 860.7,932.7 861.4,929.0 862.1,925.4 862.8,921.7 863.6,918.1 864.3,914.4 865.0,910.8 865.7,907.1 866.4,903.4 867.1,899.8 867.8,896.1 868.5,892.5 869.2,888.8 869.9,885.2 870.6,881.5 871.2,877.8 871.9,874.2 872.6,870.5 873.3,866.8 874.0,863.2 874.6,859.5 875.3,855.8 876.0,852.2 876.7,848.5 877.3,844.8 878.0,841.2 878.7,837.5 879.3,833.8 880.0,830.2 880.6,826.5 881.3,822.8 882.0,819.2 882.6,815.5 883.3,811.8 883.9,808.1 884.6,804.5 885.2,800.8 885.9,797.1 886.5,793.5 887.2,789.8 887.8,786.1 888.5,782.4 889.1,778.8 889.8,775.1 890.4,771.4 891.1,767.7 891.7,764.1 892.3,760.4 893.0,756.7 893.6,753.0 894.3,749.4 894.9,745.7 895.6,742.0 896.2,738.4 896.8,734.7 897.5,731.0 898.1,727.3 898.8,723.7 899.4,720.0 900.1,716.3 900.7,712.6 901.3,709.0 902.0,705.3 902.6,701.6 903.3,697.9 903.9,694.3 904.6,690.6 905.2,686.9 905.9,683.3 906.5,679.6 907.2,675.9 907.8,672.3 908.5,668.6 909.1,664.9 909.8,661.2 910.4,657.6 911.1,653.9 911.7,650.2 912.4,646.6 913.0,642.9 913.7,639.3 914.4,635.6 915.0,631.9 915.7,628.3 916.4,624.6 917.0,620.9 917.7,617.3 918.4,613.6 919.1,610.0 919.7,606.3 920.4,602.6 921.1,599.0 921.8,595.3 922.5,591.7 923.1,588.0 923.8,584.4 924.5,580.7 925.2,577.1 925.9,573.4 926.6,569.8 927.3,566.1 928.0,562.5 928.7,558.8 929.4,555.2 930.1,551.5 930.9,547.9 931.6,544.3 932.3,540.6 933.0,537.0 933.8,533.3 934.5,529.7 935.2,526.1 936.0,522.4 936.7,518.8 937.4,515.2 938.2,511.5 938.9,507.9 939.7,504.3 940.4,500.7 941.2,497.0 942.0,493.4 942.7,489.8 943.5,486.2 944.3,482.6 945.1,478.9 945.9,475.3 946.6,471.7 947.4,468.1 948.2,464.5 949.0,460.9 949.8,457.3 950.7,453.7 951.5,450.1 952.3,446.5 953.1,442.9 953.9,439.3 954.8,435.7 955.6,432.1 956.5,428.5 957.3,424.9 958.2,421.3 959.0,417.7 959.9,414.1 960.8,410.5 961.7,406.9 962.6,403.3 963.5,399.7 964.4,396.1 965.3,392.5 966.2,388.9 967.1,385.3 968.1,381.7 969.0,378.1 970.0,374.5 971.0,370.9 971.9,367.3 972.9,363.7 973.9,360.1 975.0,356.5 976.0,352.9 977.0,349.3 978.1,345.6 979.1,342.0 980.2,338.4 981.3,334.8 982.5,331.2 983.6,327.6 984.8,324.0 986.1,320.5 987.4,317.0 988.8,313.5 990.2,310.1 991.7,306.7 993.2,303.4 994.9,300.1 996.6,296.8 998.4,293.6 1000.2,290.5 1002.2,287.5 1004.3,284.5 1006.5,281.6 1008.8,278.8 1011.2,276.1 1013.7,273.5 1016.3,270.9 1019.0,268.5 1021.9,266.2 1024.8,263.9 1027.8,261.8 1030.9,259.8 1034.1,258.0 1037.4,256.2 1040.8,254.5 1044.3,253.0 1047.9,251.5 1051.5,250.1 1055.2,248.8 1058.9,247.7 1062.6,247.0 1066.2,246.6 1069.8,246.7 1073.2,247.3 1076.4,248.6 1079.4,250.7 1082.2,253.3 1084.9,256.4 1087.4,259.5 1089.9,262.5 1092.3,265.4 1094.7,268.2 1097.0,270.9 1099.3,273.6 1101.5,276.3 1103.7,279.0 1105.9,281.8 1108.0,284.8 1110.1,287.8 1112.2,291.1 1114.3,294.5 1116.4,298.0 1118.6,301.4 1120.8,304.8 1123.2,307.9 1125.6,310.9 1128.3,313.4 1131.1,315.6 1134.1,317.2 1137.2,318.3 1140.6,318.8 1144.0,318.9 1147.5,318.5 1150.9,317.6 1154.3,316.3 1157.6,314.6 1160.7,312.5 1163.7,310.1 1166.5,307.5 1169.3,304.8 1172.1,302.1 1175.0,299.5 1178.0,297.1 1181.0,294.9 1184.2,292.8 1187.4,291.0 1190.6,289.2 1194.0,287.7 1197.4,286.2 1200.8,284.9 1204.3,283.8 1207.9,282.8 1211.5,281.9 1215.1,281.2 1218.7,280.5 1222.4,280.0 1226.0,279.5 1229.6,279.0 1233.2,278.5 1236.8,277.8 1240.3,277.1 1243.7,276.1 1247.1,274.8 1250.3,273.2 1253.4,271.3 1256.5,269.1 1259.4,266.6 1262.2,263.9 1264.9,261.0 1267.5,258.1 1270.0,255.1 1272.5,252.2 1274.8,249.3 1277.1,246.4 1279.4,243.6 1281.5,240.7 1283.6,237.8 1285.5,234.8 1287.4,231.8 1289.1,228.5 1290.8,225.2 1292.3,221.7 1293.9,218.2 1295.4,214.6 1297.0,211.0 1298.6,207.6 1300.4,204.2 1302.4,201.1 1304.5,198.1 1307.0,195.5 1309.7,193.2 1312.7,191.2 1316.1,189.7 1319.8,188.6 1323.7,188.0 1327.5,187.9 1331.2,188.2 1334.7,189.0 1338.0,190.2 1341.0,191.8 1343.9,193.8 1346.7,196.0 1349.3,198.5 1351.8,201.2 1354.2,204.1 1356.5,207.1 1358.7,210.2 1360.8,213.3 1363.0,216.5 1365.0,219.7 1367.1,222.9 1369.0,226.1 1371.0,229.3 1372.9,232.6 1374.8,235.8 1376.6,239.1 1378.5,242.4 1380.2,245.7 1382.0,249.0 1383.7,252.3 1385.4,255.6 1387.1,258.9 1388.8,262.2 1390.4,265.6 1392.1,268.9 1393.7,272.3 1395.3,275.6 1396.9,279.0 1398.4,282.3 1400.0,285.7 1401.6,289.0 1403.1,292.4 1404.7,295.8 1406.3,299.1 1407.8,302.5 1409.4,305.8 1410.9,309.2 1412.5,312.5 1414.1,315.9 1415.7,319.2 1417.3,322.6 1418.9,325.9 1420.5,329.2 1422.1,332.5 1423.8,335.8 1425.5,339.1 1427.2,342.4 1428.9,345.7 1430.7,349.0 1432.4,352.2 1434.2,355.5 1436.0,358.7 1437.8,362.0 1439.7,365.2 1441.5,368.4 1443.4,371.6 1445.3,374.8 1447.2,378.1 1449.0,381.3 1451.0,384.5 1452.9,387.7 1454.8,390.8 1456.7,394.0 1458.6,397.2 1460.6,400.4 1462.5,403.6 1464.4,406.8 1466.4,410.0 1468.3,413.2 1470.2,416.4 1472.2,419.6 1474.1,422.8 1476.0,426.0 1477.9,429.2 1479.8,432.4 1481.7,435.6 1483.6,438.8 1485.4,442.0 1487.3,445.2 1489.1,448.5 1491.0,451.7 1492.8,455.0 1494.6,458.2 1496.4,461.5 1498.1,464.8 1499.8,468.0 1501.6,471.3 1503.3,474.6 1504.9,478.0 1506.6,481.3 1508.2,484.6 1509.8,488.0 1511.4,491.3 1512.9,494.7 1514.5,498.1 1516.0,501.5 1517.5,504.9 1519.0,508.3 1520.4,511.7 1521.9,515.1 1523.3,518.6 1524.7,522.0 1526.1,525.5 1527.4,528.9 1528.8,532.4 1530.1,535.9 1531.5,539.3 1532.8,542.8 1534.1,546.3 1535.3,549.8 1536.6,553.3 1537.9,556.8 1539.1,560.3 1540.3,563.8 1541.6,567.4 1542.8,570.9 1544.0,574.4 1545.2,577.9 1546.3,581.5 1547.5,585.0 1548.7,588.6 1549.8,592.1 1551.0,595.6 1552.1,599.2 1553.3,602.7 1554.4,606.3 1555.5,609.8 1556.7,613.4 1557.8,617.0 1558.9,620.5 1560.0,624.1 1561.1,627.6 1562.2,631.2 1563.3,634.7 1564.4,638.3 1565.6,641.8 1566.7,645.4 1567.8,648.9 1568.9,652.5 1570.0,656.0 1571.1,659.6 1572.2,663.1 1573.3,666.6 1574.4,670.2 1575.5,673.7 1576.6,677.2 1577.8,680.8 1578.9,684.3 1580.0,687.8 1581.1,691.4 1582.2,694.9 1583.3,698.4 1584.4,702.0 1585.6,705.5 1586.7,709.0 1587.8,712.5 1588.9,716.1 1590.0,719.6 1591.1,723.1 1592.3,726.6 1593.4,730.1 1594.5,733.6 1595.6,737.2 1596.8,740.7 1597.9,744.2 1599.0,747.7 1600.1,751.2 1601.3,754.7 1602.4,758.2 1603.5,761.8 1604.6,765.3 1605.8,768.8 1606.9,772.3 1608.0,775.8 1609.2,779.3 1610.3,782.8 1611.4,786.3 1612.6,789.8 1613.7,793.3 1614.9,796.9 1616.0,800.4 1617.1,803.9 1618.3,807.4 1619.4,810.9 1620.6,814.4 1621.7,817.9 1622.9,821.4 1624.0,824.9 1625.2,828.4 1626.3,831.9 1627.5,835.4 1628.6,838.9 1629.8,842.4 1630.9,846.0 1632.1,849.5 1633.3,853.0 1634.4,856.5 1635.6,860.0 1636.8,863.5 1637.9,867.0 1639.1,870.5 1640.3,874.0 1641.4,877.5 1642.6,881.1 1643.8,884.6 1644.9,888.1 1646.1,891.6 1647.3,895.1 1648.5,898.6 1649.7,902.1 1650.8,905.7 1652.0,909.2 1653.2,912.7 1654.4,916.2 1655.6,919.7 1656.8,923.3 1658.0,926.8 1659.2,930.3 1660.4,933.8 1661.6,937.4 1662.8,940.9 1664.0,944.4 1665.2,947.9 1666.4,951.5 1667.6,955.0 1668.8,958.5 1670.0,962.1 1671.2,965.6 1672.5,969.1 1673.7,972.7 1674.9,976.2 1676.1,979.8 1677.3,983.3 1678.6,986.9 1679.8,990.4 1681.0,993.9 1682.3,997.5 1683.5,1001.0 1684.8,1004.6 1686.0,1008.1 1687.2,1011.7 1688.5,1015.2 1689.8,1018.8 1691.0,1022.3 1692.3,1025.9 1693.6,1029.4 1694.8,1033.0 1696.1,1036.5 1697.4,1040.1 1698.7,1043.6 1700.0,1047.1 1701.3,1050.7 1702.6,1054.2 1703.9,1057.8 1705.3,1061.3 1706.6,1064.8 1707.9,1068.3 1709.3,1071.8 1710.6,1075.4 1712.0,1078.9 1713.4,1082.4 1714.7,1085.9 1716.1,1089.4 1717.5,1092.9 1718.9,1096.4 1720.4,1099.8 1721.8,1103.3 1723.2,1106.8 1724.7,1110.3 1726.1,1113.7 1727.6,1117.2 1729.1,1120.6 1730.5,1124.1 1732.0,1127.5 1733.5,1130.9 1735.1,1134.4 1736.6,1137.8 1738.1,1141.2 1739.7,1144.6 1741.3,1148.0 1742.9,1151.4 1744.4,1154.7 1746.1,1158.1 1747.7,1161.4 1749.3,1164.8 1751.0,1168.1 1752.6,1171.5 1754.3,1174.8 1756.0,1178.1 1757.7,1181.4 1759.4,1184.7 1761.2,1188.0 1762.9,1191.2 1764.7,1194.5 1766.5,1197.7 1768.3,1201.0 1770.1,1204.2 1771.9,1207.4 1773.7,1210.6 1775.6,1213.8 1777.5,1217.0 1779.4,1220.1 1781.3,1223.3 1783.2,1226.4 1785.2,1229.5 1787.2,1232.6 1789.2,1235.7 1791.2,1238.8 1793.2,1241.9 1795.2,1244.9 1797.3,1248.0 1799.4,1251.0 1801.5,1254.0 1803.6,1257.0 1805.8,1260.0 1807.9,1263.0 1810.1,1265.9 1812.3,1268.9 1814.6,1271.8 1816.8,1274.7 1819.1,1277.6 1821.4,1280.4 1823.7,1283.3 1826.0,1286.1 1828.4,1288.9 1830.8,1291.7 1833.2,1294.5 1835.6,1297.3 1838.0,1300.0 1840.5,1302.8 1843.0,1305.5 1845.5,1308.1 1848.0,1310.8 1850.6,1313.5 1853.1,1316.1 1855.7,1318.7 1858.4,1321.3 1861.0,1323.9 1863.6,1326.4 1866.3,1329.0 1869.0,1331.5 1871.7,1334.0 1874.5,1336.4 1877.2,1338.9 1880.0,1341.3 1882.8,1343.7 1885.6,1346.1 1888.4,1348.4 1891.3,1350.8 1894.1,1353.1 1897.0,1355.4 1899.9,1357.6 1902.9,1359.9 1905.8,1362.1 1908.8,1364.3 1911.8,1366.4 1914.8,1368.6 1917.8,1370.7 1920.8,1372.8 1923.9,1374.8 1927.0,1376.9 1930.0,1378.9 1933.2,1380.9 1936.3,1382.8 1939.4,1384.8 1942.6,1386.7 1945.8,1388.6 1949.0,1390.4 1952.2,1392.3 1955.4,1394.1 1958.6,1395.8 1961.9,1397.6 1965.2,1399.3 1968.5,1401.0 1971.8,1402.6 1975.1,1404.3 1978.5,1405.8 1981.8,1407.4 1985.2,1409.0 1988.6,1410.5 1992.0,1411.9 1995.4,1413.4 1998.8,1414.8 2002.3,1416.2 2005.7,1417.6 2009.2,1418.9 2012.7,1420.2 2016.2,1421.5 2019.7,1422.7 2023.3,1423.9 2026.8,1425.1 2030.4,1426.3 2033.9,1427.4 2037.5,1428.6 2041.1,1429.6 2044.7,1430.7 2048.3,1431.7 2051.9,1432.8 2055.5,1433.7 2059.1,1434.7 2062.8,1435.6 2066.4,1436.6 2070.1,1437.4 2073.7,1438.3 2077.4,1439.2 2081.1,1440.0 2084.8,1440.8 2088.4,1441.6 2092.1,1442.3 2095.8,1443.0 2099.5,1443.8 2103.2,1444.5 2106.9,1445.1 2110.6,1445.8 2114.4,1446.4 2118.1,1447.0 2121.8,1447.6 2125.5,1448.2 2129.2,1448.8 2133.0,1449.3 2136.7,1449.8 2140.4,1450.3 2144.1,1450.8 2147.8,1451.3 2151.6,1451.7 2155.3,1452.2 2159.0,1452.6 2162.7,1453.0 2166.4,1453.4 2170.1,1453.8 2173.9,1454.1 2177.6,1454.5 2181.3,1454.8 2185.0,1455.1 2188.7,1455.4 2192.3,1455.7 2196.0,1456.0 2199.7,1456.2 2203.4,1456.5 2207.0,1456.7 2210.7,1457.0 2214.4,1457.2 2218.0,1457.4 2221.6,1457.6 2225.3,1457.8 2228.9,1458.0 2232.5,1458.1 2236.1,1458.3 2239.7,1458.4 2243.3,1458.6 2246.9,1458.7 2250.4,1458.8 2254.0,1458.9 2257.5,1459.0 2261.0,1459.1"/>
<g transform="translate(271.70,1483.50) scale(0.98,1.01)"><text font-size="88" text-anchor="end">0.0</text></g>
<g transform="translate(271.70,1264.42) scale(0.98,1.01)"><text font-size="88" text-anchor="end">0.2</text></g>
<g transform="translate(271.70,1045.35) scale(0.98,1.01)"><text font-size="88" text-anchor="end">0.4</text></g>
<g transform="translate(271.70,826.27) scale(0.98,1.01)"><text font-size="88" text-anchor="end">0.6</text></g>
<g transform="translate(271.70,607.19) scale(0.98,1.01)"><text font-size="88" text-anchor="end">0.8</text></g>
<g transform="translate(271.70,388.12) scale(0.98,1.01)"><text font-size="88" text-anchor="end">1.0</text><rect x="-118.36" y="-12.32" width="16.49" height="14.96" fill="#fff"/><rect x="-89.62" y="-12.32" width="15.26" height="14.96" fill="#fff"/></g>
<g transform="translate(271.70,169.04) scale(0.98,1.01)"><text font-size="88" text-anchor="end">1.2</text><rect x="-118.36" y="-12.32" width="16.49" height="14.96" fill="#fff"/><rect x="-89.62" y="-12.32" width="15.26" height="14.96" fill="#fff"/></g>
<g transform="translate(318.50,1574.20) scale(0.986,1.0)"><text font-size="88" text-anchor="middle">1.5</text><rect x="-57.20" y="-12.32" width="16.49" height="14.96" fill="#fff"/><rect x="-28.46" y="-12.32" width="15.26" height="14.96" fill="#fff"/></g>
<g transform="translate(749.74,1574.20) scale(0.986,1.0)"><text font-size="88" text-anchor="middle">2.0</text></g>
<g transform="translate(1180.99,1574.20) scale(0.986,1.0)"><text font-size="88" text-anchor="middle">2.5</text></g>
<g transform="translate(1612.23,1574.20) scale(0.986,1.0)"><text font-size="88" text-anchor="middle">3.0</text></g>
<g transform="translate(2043.48,1574.20) scale(0.986,1.0)"><text font-size="88" text-anchor="middle">3.5</text></g>
<text transform="translate(98.6,787.2) rotate(-90) scale(1,0.945)" font-size="90" text-anchor="middle">dW/dlogM</text>
<text x="990.5" y="1722.8" font-size="87.3">logM</text>
<text class="r" x="1218" y="1723.4" font-size="68">(</text>
<text x="1241.4" y="1722.8" font-size="87.3">g mol</text>
<text class="r" transform="translate(1468.8,1687.3) scale(1.348,1)" font-size="68">&#8722;</text>
<g transform="translate(1519.20,1685.60) scale(1.0,1.0)"><text font-size="90" text-anchor="start">1</text><rect x="4.05" y="-12.60" width="16.87" height="15.30" fill="#fff"/><rect x="33.44" y="-12.60" width="15.61" height="15.30" fill="#fff"/></g>
<text class="r" x="1570.1" y="1723.4" font-size="68">)</text>
<rect x="1780" y="58.5" width="444" height="344.5" fill="#fff" stroke="#000" stroke-width="3.2"/>
<rect x="1809.5" y="121.9" width="201.5" height="14" fill="#000"/>
<text x="2035" y="159" font-size="87">3h</text>
<rect x="1809.5" y="232.4" width="201.5" height="14" fill="#f00"/>
<text x="2035" y="271.7" font-size="87">4.5h</text>
<rect x="1809.5" y="343.0" width="201.5" height="14" fill="#00f"/>
<text x="2035" y="382.5" font-size="87">6h</text>
</svg>
</body></html>
